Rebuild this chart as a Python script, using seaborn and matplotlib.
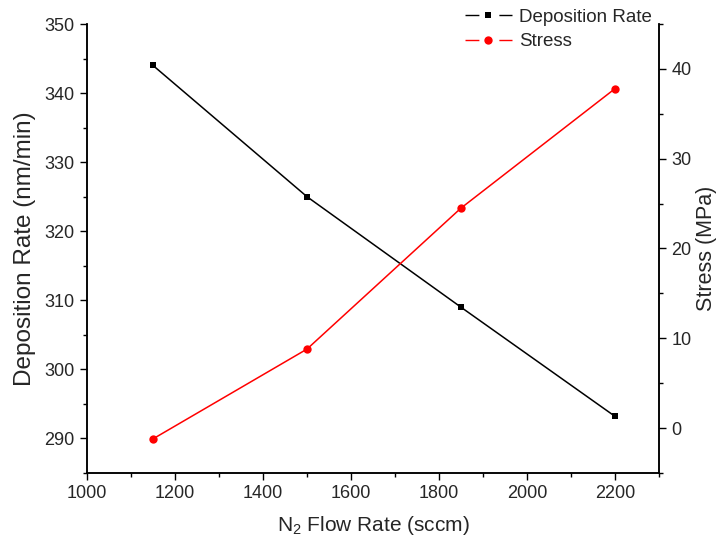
import matplotlib
matplotlib.use("Agg")
import matplotlib.pyplot as plt
import seaborn as sns
import pandas as pd
from matplotlib.ticker import MultipleLocator
from matplotlib.lines import Line2D

flow = [1150, 1500, 1850, 2200]
deposition_rate = [344.0, 325.0, 309.0, 293.2]
stress = [-1.2, 8.8, 24.5, 37.8]
series_names = ["Deposition Rate", "Stress"]

sns.set_style("ticks")
plt.rcParams['font.family'] = ['Liberation Sans', 'DejaVu Sans']
plt.rcParams['mathtext.default'] = 'regular'

df = pd.DataFrame({"flow": flow, "dep": deposition_rate, "stress": stress})

fig = plt.figure(figsize=(7.17, 5.42), dpi=100)
ax = fig.add_axes([87/717, 1-473/542, (659-87)/717, (473-24)/542])
ax2 = ax.twinx()

sns.lineplot(data=df, x="flow", y="dep", ax=ax, color="black", marker="s",
             markersize=5, markeredgewidth=0, linewidth=1.1, legend=False)
sns.lineplot(data=df, x="flow", y="stress", ax=ax2, color="red", marker="o",
             markersize=6, markeredgewidth=0, linewidth=1.1, legend=False)

ax.set_xlim(1000, 2300)
ax.set_ylim(285, 350)
ax2.set_ylim(-5, 45)

ax.xaxis.set_major_locator(MultipleLocator(200))
ax.xaxis.set_minor_locator(MultipleLocator(100))
ax.yaxis.set_major_locator(MultipleLocator(10))
ax.yaxis.set_minor_locator(MultipleLocator(5))
ax2.yaxis.set_major_locator(MultipleLocator(10))
ax2.yaxis.set_minor_locator(MultipleLocator(5))

for a in (ax, ax2):
    a.tick_params(which='major', direction='out', length=5, width=1, labelsize=13,
                  color='black', pad=4)
    a.tick_params(which='minor', direction='out', length=3, width=1, color='black')
    for s in a.spines.values():
        s.set_linewidth(1.1)
        s.set_color('black')
    a.spines['top'].set_visible(False)

ax.set_xlabel("N$_2$ Flow Rate (sccm)", fontsize=15, labelpad=8)
ax.set_ylabel("Deposition Rate (nm/min)", fontsize=17.5, labelpad=6)
ax2.set_ylabel("Stress (MPa)", fontsize=15.5, labelpad=3)

dash = (0, (10, 14.4, 10, 100))
h1 = Line2D([], [], color="black", lw=1.0, linestyle=dash, marker="s",
            markersize=5, markeredgewidth=0)
h2 = Line2D([], [], color="red", lw=1.0, linestyle=dash, marker="o",
            markersize=6, markeredgewidth=0)
leg = fig.legend([h1, h2], series_names, loc='upper right',
                 bbox_to_anchor=(663/717, 1.005),
                 frameon=False, fontsize=13.5, handlelength=2.55, handletextpad=0.35,
                 labelspacing=0.4, borderaxespad=0.2)

fig.savefig("out.png", dpi=100)
